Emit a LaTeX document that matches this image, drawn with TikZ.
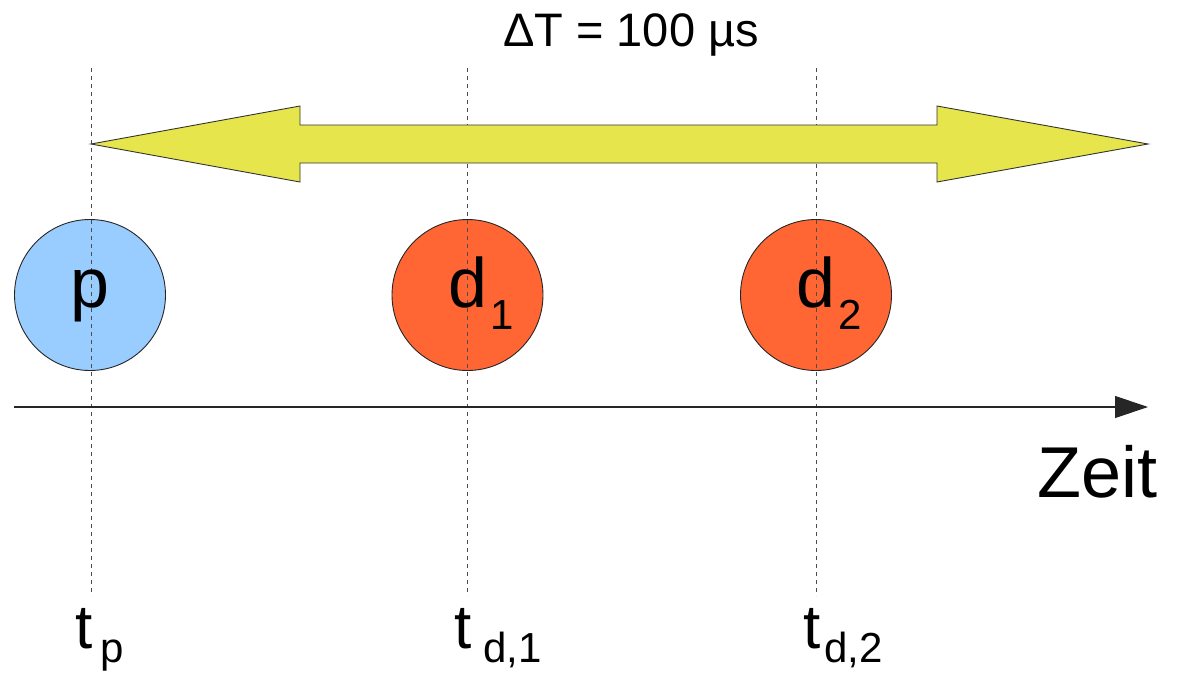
\documentclass[tikz,border=0pt]{standalone}
\usepackage{fontspec}
\setmainfont{Liberation Sans}
\usetikzlibrary{arrows.meta}
\definecolor{arrowyellow}{HTML}{E6E64C}
\definecolor{pblue}{HTML}{99CCFF}
\definecolor{dorange}{HTML}{FF6633}
\begin{document}
\begin{tikzpicture}[x=1pt,y=-1pt,
  guide/.style={draw=black!70,line width=0.9pt,dash pattern=on 4pt off 4pt},
  ball/.style={circle,draw=black!85,line width=0.9pt,minimum size=151pt,inner sep=0pt},
  big/.style={font=\fontsize{70}{72}\selectfont},
  sub/.style={font=\fontsize{42}{44}\selectfont},
  tlabel/.style={anchor=base west,inner sep=0pt,font=\fontsize{62}{64}\selectfont},
  bigarrow/.style={fill=arrowyellow,draw=black!80,line width=0.9pt,line join=miter}]
\useasboundingbox (0,0) rectangle (1178,675);
% circles
\node[ball,fill=pblue] (p) at (90,295) {};
\node[ball,fill=dorange] (d1) at (467.5,295) {};
\node[ball,fill=dorange] (d2) at (816,295) {};
% guide lines
\coordinate (gp1) at (91,68);   \coordinate (gp2) at (91,596);
\coordinate (gd1a) at (467.5,68); \coordinate (gd1b) at (467.5,596);
\coordinate (gd2a) at (816,68); \coordinate (gd2b) at (816,596);
\draw[guide] (gp1) -- (gp2);
\draw[guide] (gd1a) -- (gd1b);
\draw[guide] (gd2a) -- (gd2b);
% labels in circles
\node[big,anchor=base,inner sep=0pt] (ptext) at (90,307) {p};
\node[big,anchor=base west,inner sep=0pt] (d1text) at (448,307) {d};
\node[sub,anchor=base west,inner sep=0pt] (d1sub) at (490,329) {1};
\node[big,anchor=base west,inner sep=0pt] (d2text) at (796,307) {d};
\node[sub,anchor=base west,inner sep=0pt] (d2sub) at (838,329) {2};
% double arrow
\draw[bigarrow] (91,144) -- (300,106) -- (300,125) -- (937,125) -- (937,106)
  -- (1148,144) -- (937,182) -- (937,163) -- (300,163) -- (300,182) -- cycle;
% time axis
\coordinate (ax0) at (14,407);
\coordinate (ax1) at (1148,407);
\draw[line width=1.2pt,draw=black!85,-{Triangle[length=33pt,width=22pt]}] (ax0) -- (ax1);
\node[anchor=base west,inner sep=0pt,font=\fontsize{72}{74}\selectfont] (zeit) at (1037,497) {Zeit};
% title
\node[anchor=base,inner sep=0pt,font=\fontsize{47}{49}\selectfont] (dt) at (631,46) {ΔT = 100 µs};
% time labels
\node[tlabel] (tp) at (75,648) {t};
\node[sub,anchor=base west,inner sep=0pt] (tps) at (100,662) {p};
\node[tlabel] (td1) at (454,648) {t};
\node[sub,anchor=base west,inner sep=0pt] (td1s) at (483,662) {d,1};
\node[tlabel] (td2) at (803,648) {t};
\node[sub,anchor=base west,inner sep=0pt] (td2s) at (824,662) {d,2};
\end{tikzpicture}
\end{document}
